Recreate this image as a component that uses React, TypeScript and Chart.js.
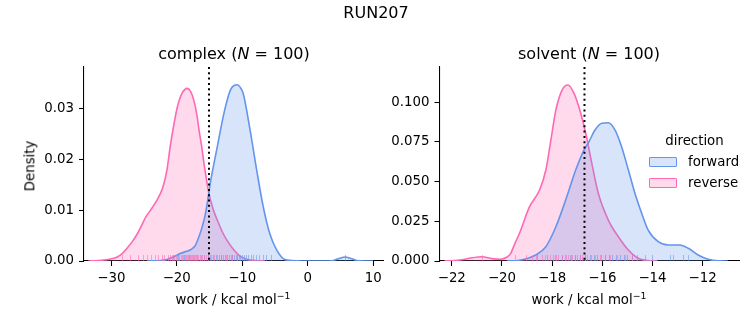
import React, { useEffect, useRef } from "react";
import { Chart, registerables } from "chart.js";

Chart.register(...registerables);

const FONT = "'DejaVu Sans', 'Liberation Sans', sans-serif";
const BLUE = "#6495ED";
const PINK = "#FF69B4";
const BLUE_FILL = "rgba(100,149,237,0.25)";
const PINK_FILL = "rgba(255,105,180,0.25)";

// ---------- complex panel ----------
const complexXTicks = [-30, -20, -10, 0, 10];
const complexYTicks = [0, 0.01, 0.02, 0.03];
const complexFwdX = [-24.5, -22.5, -21.5, -20.5, -19.4, -18.5, -17.9, -17.2, -16.6, -16.1, -15.6, -14.8, -13.8, -12.8, -11.8, -11.2, -10.75, -10.3, -9.85, -8.8, -7.8, -6.8, -5.8, -4.75, -3.5, -2.5, -1, 1, 2.5, 3.9, 4.8, 5.7, 6.6, 7.5, 8.8, 10];
const complexFwdY = [0, 0.0001, 0.0003, 0.0008, 0.0015, 0.0019, 0.0022, 0.003, 0.0048, 0.0068, 0.0094, 0.0159, 0.0225, 0.029, 0.0336, 0.0345, 0.0346, 0.0341, 0.0329, 0.0257, 0.0179, 0.0107, 0.0054, 0.0022, 0.0003, 0.0001, 0, 0, 0, 0.0001, 0.0005, 0.0008, 0.0005, 0.0001, 0, 0];
const complexRevX = [-33.5, -32, -31.1, -30.1, -29.1, -28.3, -27.6, -26.8, -26.0, -25.3, -24.7, -24.0, -23.0, -22.1, -21.5, -21.0, -20.4, -19.9, -19.2, -18.4, -17.9, -17.4, -16.9, -16.6, -16.2, -15.85, -15.1, -14.4, -13.8, -13.0, -12.3, -11.3, -10.3, -9.2, -8.0, -6.5];
const complexRevY = [0, 0.0001, 0.0002, 0.0004, 0.0008, 0.0015, 0.0025, 0.0038, 0.0054, 0.0072, 0.0087, 0.01, 0.012, 0.0146, 0.0179, 0.0225, 0.0271, 0.0303, 0.0329, 0.0339, 0.0333, 0.0316, 0.0285, 0.0257, 0.0225, 0.0192, 0.0133, 0.01, 0.008, 0.0056, 0.004, 0.0022, 0.0009, 0.0003, 0.0001, 0];
const complexRugFwd = [-20.6, -19.8, -18.9, -18.2, -17.5, -16.9, -16.3, -15.8, -15.3, -14.9, -14.4, -14.0, -13.6, -13.2, -12.9, -12.6, -12.3, -12.0, -11.7, -11.5, -11.2, -11.0, -10.8, -10.5, -10.3, -10.0, -9.7, -9.4, -9.1, -8.7, -8.3, -7.9, -7.4, -6.9, -6.3, -5.6, 5.7];
const complexRugRev = [-28.4, -27.1, -25.9, -25.2, -24.6, -23.9, -23.4, -22.8, -22.3, -21.9, -21.4, -21.0, -20.7, -20.4, -20.1, -19.9, -19.6, -19.4, -19.2, -19.0, -18.8, -18.6, -18.5, -18.3, -18.1, -18.0, -17.8, -17.6, -17.4, -17.2, -17.0, -16.8, -16.5, -16.2, -15.9, -15.6, -15.2, -14.8, -14.3, -13.8, -13.2, -12.5, -11.6, -10.8];
const complexVline = -15.08;

// ---------- solvent panel ----------
const solventXTicks = [-22, -20, -18, -16, -14, -12];
const solventYTicks = [0, 0.025, 0.05, 0.075, 0.1];
const solventFwdX = [-19.8, -19.3, -18.65, -18.25, -17.85, -17.46, -17.06, -16.73, -16.53, -16.29, -16.02, -15.76, -15.49, -15.23, -14.96, -14.7, -14.43, -14.17, -13.77, -13.37, -12.9, -12.57, -12.18, -11.78, -11.38, -11.0];
const solventFwdY = [0, 0.0005, 0.0038, 0.009, 0.0216, 0.0384, 0.0573, 0.0699, 0.0752, 0.0825, 0.0868, 0.0871, 0.0825, 0.072, 0.0573, 0.0427, 0.0301, 0.0195, 0.0122, 0.0101, 0.0101, 0.008, 0.0038, 0.0011, 0.0001, 0];
const solventRevX = [-22.3, -22.0, -21.6, -21.3, -20.8, -20.4, -20.05, -19.8, -19.65, -19.5, -19.3, -18.9, -18.5, -18.25, -18.05, -17.85, -17.6, -17.37, -17.13, -16.86, -16.66, -16.42, -16.16, -15.76, -15.36, -14.96, -14.57, -14.2, -13.8];
const solventRevY = [0, 0.0002, 0.0008, 0.0017, 0.0027, 0.0015, 0.0011, 0.0025, 0.0048, 0.0105, 0.0175, 0.0342, 0.0447, 0.0573, 0.0762, 0.0951, 0.1078, 0.1109, 0.1057, 0.0931, 0.0805, 0.0616, 0.0427, 0.0258, 0.0153, 0.0069, 0.0017, 0.0003, 0];
const solventRugFwd = [-18.6, -18.2, -17.9, -17.6, -17.3, -17.1, -16.9, -16.7, -16.5, -16.35, -16.2, -16.05, -15.9, -15.75, -15.6, -15.45, -15.3, -15.15, -15.0, -14.8, -14.6, -14.3, -14.0, -13.3, -13.2, -12.8, -12.6];
const solventRugRev = [-20.8, -19.5, -19.05, -18.8, -18.65, -18.4, -18.3, -18.1, -17.95, -17.85, -17.75, -17.6, -17.5, -17.45, -17.35, -17.25, -17.2, -17.1, -17.0, -16.9, -16.8, -16.7, -16.6, -16.45, -16.3, -16.1, -15.9, -15.7, -15.4, -15.1, -14.8];
const solventVline = -16.71;

const W = 753;
const H = 325;

type Panel = {
  area: { left: number; right: number; top: number; bottom: number };
  xMin: number; xMax: number; xTicks: number[];
  yMax: number; yTicks: number[]; yDec: number;
  fx: number[]; fy: number[]; rx: number[]; ry: number[];
  rugF: number[]; rugR: number[]; vline: number;
};

const panels: Panel[] = [
  {
    area: { left: 84, right: 383, top: 67, bottom: 261 },
    xMin: -34.17, xMax: 11.5, xTicks: complexXTicks,
    yMax: 0.0381, yTicks: complexYTicks, yDec: 2,
    fx: complexFwdX, fy: complexFwdY, rx: complexRevX, ry: complexRevY,
    rugF: complexRugFwd, rugR: complexRugRev, vline: complexVline,
  },
  {
    area: { left: 439.5, right: 739, top: 67, bottom: 261 },
    xMin: -22.49, xMax: -10.55, xTicks: solventXTicks,
    yMax: 0.1222, yTicks: solventYTicks, yDec: 3,
    fx: solventFwdX, fy: solventFwdY, rx: solventRevX, ry: solventRevY,
    rugF: solventRugFwd, rugR: solventRugRev, vline: solventVline,
  },
];

const fmt = (v: number, d: number) => v.toFixed(d).replace("-", "\u2212");

function buildChart(canvas: HTMLCanvasElement, p: Panel) {
  const overlay = {
    id: "overlay",
    afterDatasetsDraw(chart: any) {
      const { ctx, chartArea } = chart;
      const xs = chart.scales.x;
      const rugH = 6;
      ctx.save();
      ctx.lineWidth = 1;
      const drawRug = (vals: number[], color: string) => {
        ctx.strokeStyle = color;
        vals.forEach((v) => {
          const px = Math.round(xs.getPixelForValue(v)) + 0.5;
          ctx.beginPath();
          ctx.moveTo(px, chartArea.bottom);
          ctx.lineTo(px, chartArea.bottom - rugH);
          ctx.stroke();
        });
      };
      drawRug(p.rugF, "rgba(100,149,237,0.55)");
      drawRug(p.rugR, "rgba(255,105,180,0.55)");
      const vx = xs.getPixelForValue(p.vline);
      ctx.strokeStyle = "#000";
      ctx.lineWidth = 2;
      ctx.setLineDash([2, 3.3]);
      ctx.beginPath();
      ctx.moveTo(vx, chartArea.top);
      ctx.lineTo(vx, chartArea.bottom);
      ctx.stroke();
      ctx.restore();
    },
  };

  const tickFont = { family: FONT, size: 13.33 };
  return new Chart(canvas, {
    type: "line",
    data: {
      datasets: [
        {
          label: "forward",
          data: p.fx.map((x, i) => ({ x, y: p.fy[i] })),
          borderColor: BLUE,
          backgroundColor: BLUE_FILL,
          fill: "origin",
          pointRadius: 0,
          borderWidth: 1.6,
          cubicInterpolationMode: "monotone",
        },
        {
          label: "reverse",
          data: p.rx.map((x, i) => ({ x, y: p.ry[i] })),
          borderColor: PINK,
          backgroundColor: PINK_FILL,
          fill: "origin",
          pointRadius: 0,
          borderWidth: 1.6,
          cubicInterpolationMode: "monotone",
        },
      ],
    },
    options: {
      responsive: false,
      animation: false,
      events: [],
      layout: { padding: { left: 0, right: W - p.area.right, top: p.area.top, bottom: 0 } },
      plugins: { legend: { display: false }, tooltip: { enabled: false }, title: { display: false } },
      scales: {
        x: {
          type: "linear",
          min: p.xMin,
          max: p.xMax,
          afterBuildTicks: (s: any) => { s.ticks = p.xTicks.map((v) => ({ value: v })); },
          afterFit: (s: any) => { s.height = H - p.area.bottom; },
          grid: { drawOnChartArea: false, drawTicks: true, tickLength: 5, tickColor: "#000", tickWidth: 1.07 },
          border: { display: true, color: "#000", width: 1.07 },
          ticks: { font: tickFont, color: "#000", padding: 5, maxRotation: 0, autoSkip: false, callback: (v: any) => fmt(Number(v), 0) },
        },
        y: {
          type: "linear",
          min: 0,
          max: p.yMax,
          afterBuildTicks: (s: any) => { s.ticks = p.yTicks.map((v) => ({ value: v })); },
          afterFit: (s: any) => { s.width = p.area.left; },
          grid: { drawOnChartArea: false, drawTicks: true, tickLength: 5, tickColor: "#000", tickWidth: 1.07 },
          border: { display: true, color: "#000", width: 1.07 },
          ticks: { font: tickFont, color: "#000", padding: 5, autoSkip: false, callback: (v: any) => fmt(Number(v), p.yDec) },
        },
      },
    },
    plugins: [overlay],
  } as any);
}

const textBase: React.CSSProperties = {
  position: "absolute",
  fontFamily: FONT,
  color: "#000",
  whiteSpace: "nowrap",
  lineHeight: 1,
  transform: "translate(-50%, -50%)",
};

const Sup = ({ children }: { children: React.ReactNode }) => (
  <span style={{ fontSize: "0.7em", position: "relative", top: "-0.5em" }}>{children}</span>
);

export default function App() {
  const c1 = useRef<HTMLCanvasElement>(null);
  const c2 = useRef<HTMLCanvasElement>(null);

  useEffect(() => {
    const a = buildChart(c1.current!, panels[0]);
    const b = buildChart(c2.current!, panels[1]);
    return () => { a.destroy(); b.destroy(); };
  }, []);

  const canvasStyle: React.CSSProperties = { position: "absolute", left: 0, top: 0, width: W, height: H };
  const patch = (top: number, edge: string, fill: string): React.CSSProperties => ({
    position: "absolute", left: 649, top, width: 28, height: 10, boxSizing: "border-box",
    border: `1.3px solid ${edge}`, background: fill, borderRadius: 1,
  });

  return (
    <div style={{ position: "fixed", left: 0, top: 0, width: W, height: H, background: "#fff", overflow: "hidden" }}>
      <canvas ref={c1} width={W} height={H} style={canvasStyle} />
      <canvas ref={c2} width={W} height={H} style={canvasStyle} />
      <div style={{ ...textBase, left: 376, top: 13, fontSize: 16 }}>RUN207</div>
      <div style={{ ...textBase, left: 234, top: 54, fontSize: 16 }}>complex (<i>N</i> = 100)</div>
      <div style={{ ...textBase, left: 589, top: 54, fontSize: 16 }}>solvent (<i>N</i> = 100)</div>
      <div style={{ ...textBase, left: 233, top: 300, fontSize: 13.33 }}>work / kcal mol<Sup>{"\u22121"}</Sup></div>
      <div style={{ ...textBase, left: 589, top: 300, fontSize: 13.33 }}>work / kcal mol<Sup>{"\u22121"}</Sup></div>
      <div style={{ ...textBase, left: 30, top: 166, fontSize: 13.33, transform: "translate(-50%, -50%) rotate(-90deg)" }}>Density</div>
      <div style={{ ...textBase, left: 694.5, top: 141, fontSize: 13.33 }}>direction</div>
      <div style={patch(157, BLUE, BLUE_FILL)} />
      <div style={patch(178, PINK, PINK_FILL)} />
      <div style={{ ...textBase, left: 688, top: 161.5, fontSize: 13.33, transform: "translate(0, -50%)" }}>forward</div>
      <div style={{ ...textBase, left: 688, top: 182.5, fontSize: 13.33, transform: "translate(0, -50%)" }}>reverse</div>
    </div>
  );
}
